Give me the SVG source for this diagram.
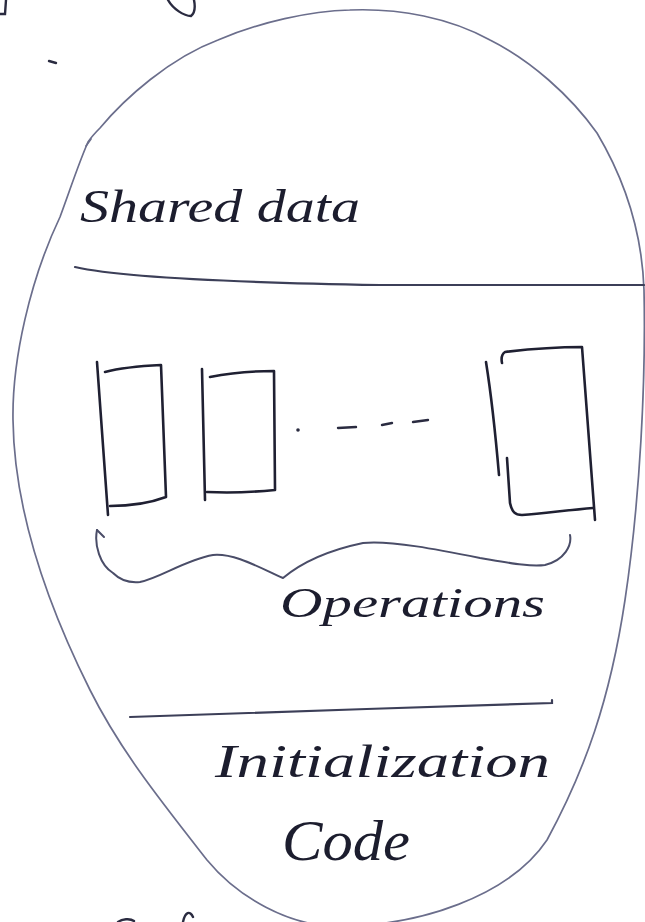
<svg xmlns="http://www.w3.org/2000/svg" width="645" height="922" viewBox="0 0 645 922">
<style>
.outline{fill:none;stroke:#6b6e8c;stroke-width:1.7;stroke-linecap:round;stroke-linejoin:round}
.rule{fill:none;stroke:#3c3f58;stroke-width:2.2;stroke-linecap:round}
.box{fill:none;stroke:#1f2032;stroke-width:2.6;stroke-linecap:round;stroke-linejoin:round}
.brace{fill:none;stroke:#4a4d68;stroke-width:2;stroke-linecap:round;stroke-linejoin:round}
.frag{fill:none;stroke:#2a2b40;stroke-width:2.4;stroke-linecap:round}
.hand{font-family:"Liberation Serif","DejaVu Serif",serif;font-style:italic;fill:#1c1d2e}
</style>
<rect width="645" height="922" fill="#ffffff"/>
<g id="fragments">
<path class="frag" d="M 0 14 L 5 14 L 6 0"/>
<path class="frag" d="M 168 0 C 173 9, 184 16, 191 16 C 196 12, 195 5, 194 0"/>
<path class="frag" d="M 49 61 L 56 63" stroke-width="4"/>
<path class="frag" d="M 118 922 C 122 919, 130 918, 134 921"/>
<path class="frag" d="M 183 922 C 185 912, 190 910, 193 917"/>
</g>
<g id="monitor">
<path class="outline" d="M 350 10 C 400 8, 450 18, 490 40 C 530 60, 570 95, 597 133 C 625 180, 642 230, 644 290 C 646 380, 640 500, 625 600 C 610 700, 585 770, 547 840 C 510 895, 420 928, 330 926 C 290 924, 240 900, 207 860 C 160 800, 120 750, 90 690 C 40 590, 14 500, 13 420 C 12 360, 30 280, 60 217 C 70 190, 78 165, 88 142 C 92 136, 96 132, 100 128 C 125 98, 170 58, 218 40 C 260 22, 310 11, 350 10"/>
<path class="outline" d="M 86 146 L 91 139"/>
</g>
<g id="connectors">
<path class="rule" d="M 75 267 C 110 275, 200 282, 380 285 L 644 285"/>
<path class="rule" d="M 130 717 C 250 713, 420 707, 552 703 L 552 700"/>
</g>
<g id="shared-data">
<text class="hand" x="80" y="222" font-size="46" textLength="280" lengthAdjust="spacingAndGlyphs">Shared data</text>
</g>
<g id="operation-1">
<path class="box" d="M 97 362 L 108 515"/>
<path class="box" d="M 105 372 C 120 368, 140 366, 161 365 L 166 497 C 150 503, 130 506, 110 506"/>
</g>
<g id="operation-2">
<path class="box" d="M 202 369 L 205 500"/>
<path class="box" d="M 210 377 C 230 373, 250 371, 274 371 L 275 490 C 255 492, 230 493, 207 492"/>
</g>
<g id="ellipsis">
<circle cx="298" cy="430" r="1.8" fill="#2a2b40"/>
<path class="frag" d="M 338 428 L 356 427"/>
<path class="frag" d="M 382 425 L 392 423"/>
<path class="frag" d="M 413 422 L 428 420"/>
</g>
<g id="operation-n">
<path class="box" d="M 486 362 C 492 400, 496 440, 499 475"/>
<path class="box" d="M 502 363 C 501 358, 502 354, 505 352 C 530 349, 560 347, 582 347 L 595 520"/>
<path class="box" d="M 507 458 C 508 475, 509 490, 510 503 C 512 512, 515 515, 522 515 C 545 513, 570 510, 593 508"/>
</g>
<g id="operations">
<path class="brace" d="M 97 530 C 94 545, 100 565, 113 573 C 120 580, 130 583, 140 582 C 160 578, 185 560, 213 555 C 235 553, 260 568, 283 578 C 295 568, 320 552, 363 543 C 390 540, 440 550, 480 558 C 510 563, 530 567, 545 565 C 565 560, 572 545, 570 535"/>
<path class="brace" d="M 97 530 L 104 537"/>
<text class="hand" x="280" y="617" font-size="42" textLength="265" lengthAdjust="spacingAndGlyphs">Operations</text>
</g>
<g id="initialization-code">
<text class="hand" x="215" y="777" font-size="46" textLength="335" lengthAdjust="spacingAndGlyphs">Initialization</text>
<text class="hand" x="282" y="860" font-size="56" textLength="128" lengthAdjust="spacingAndGlyphs">Code</text>
</g>
</svg>
